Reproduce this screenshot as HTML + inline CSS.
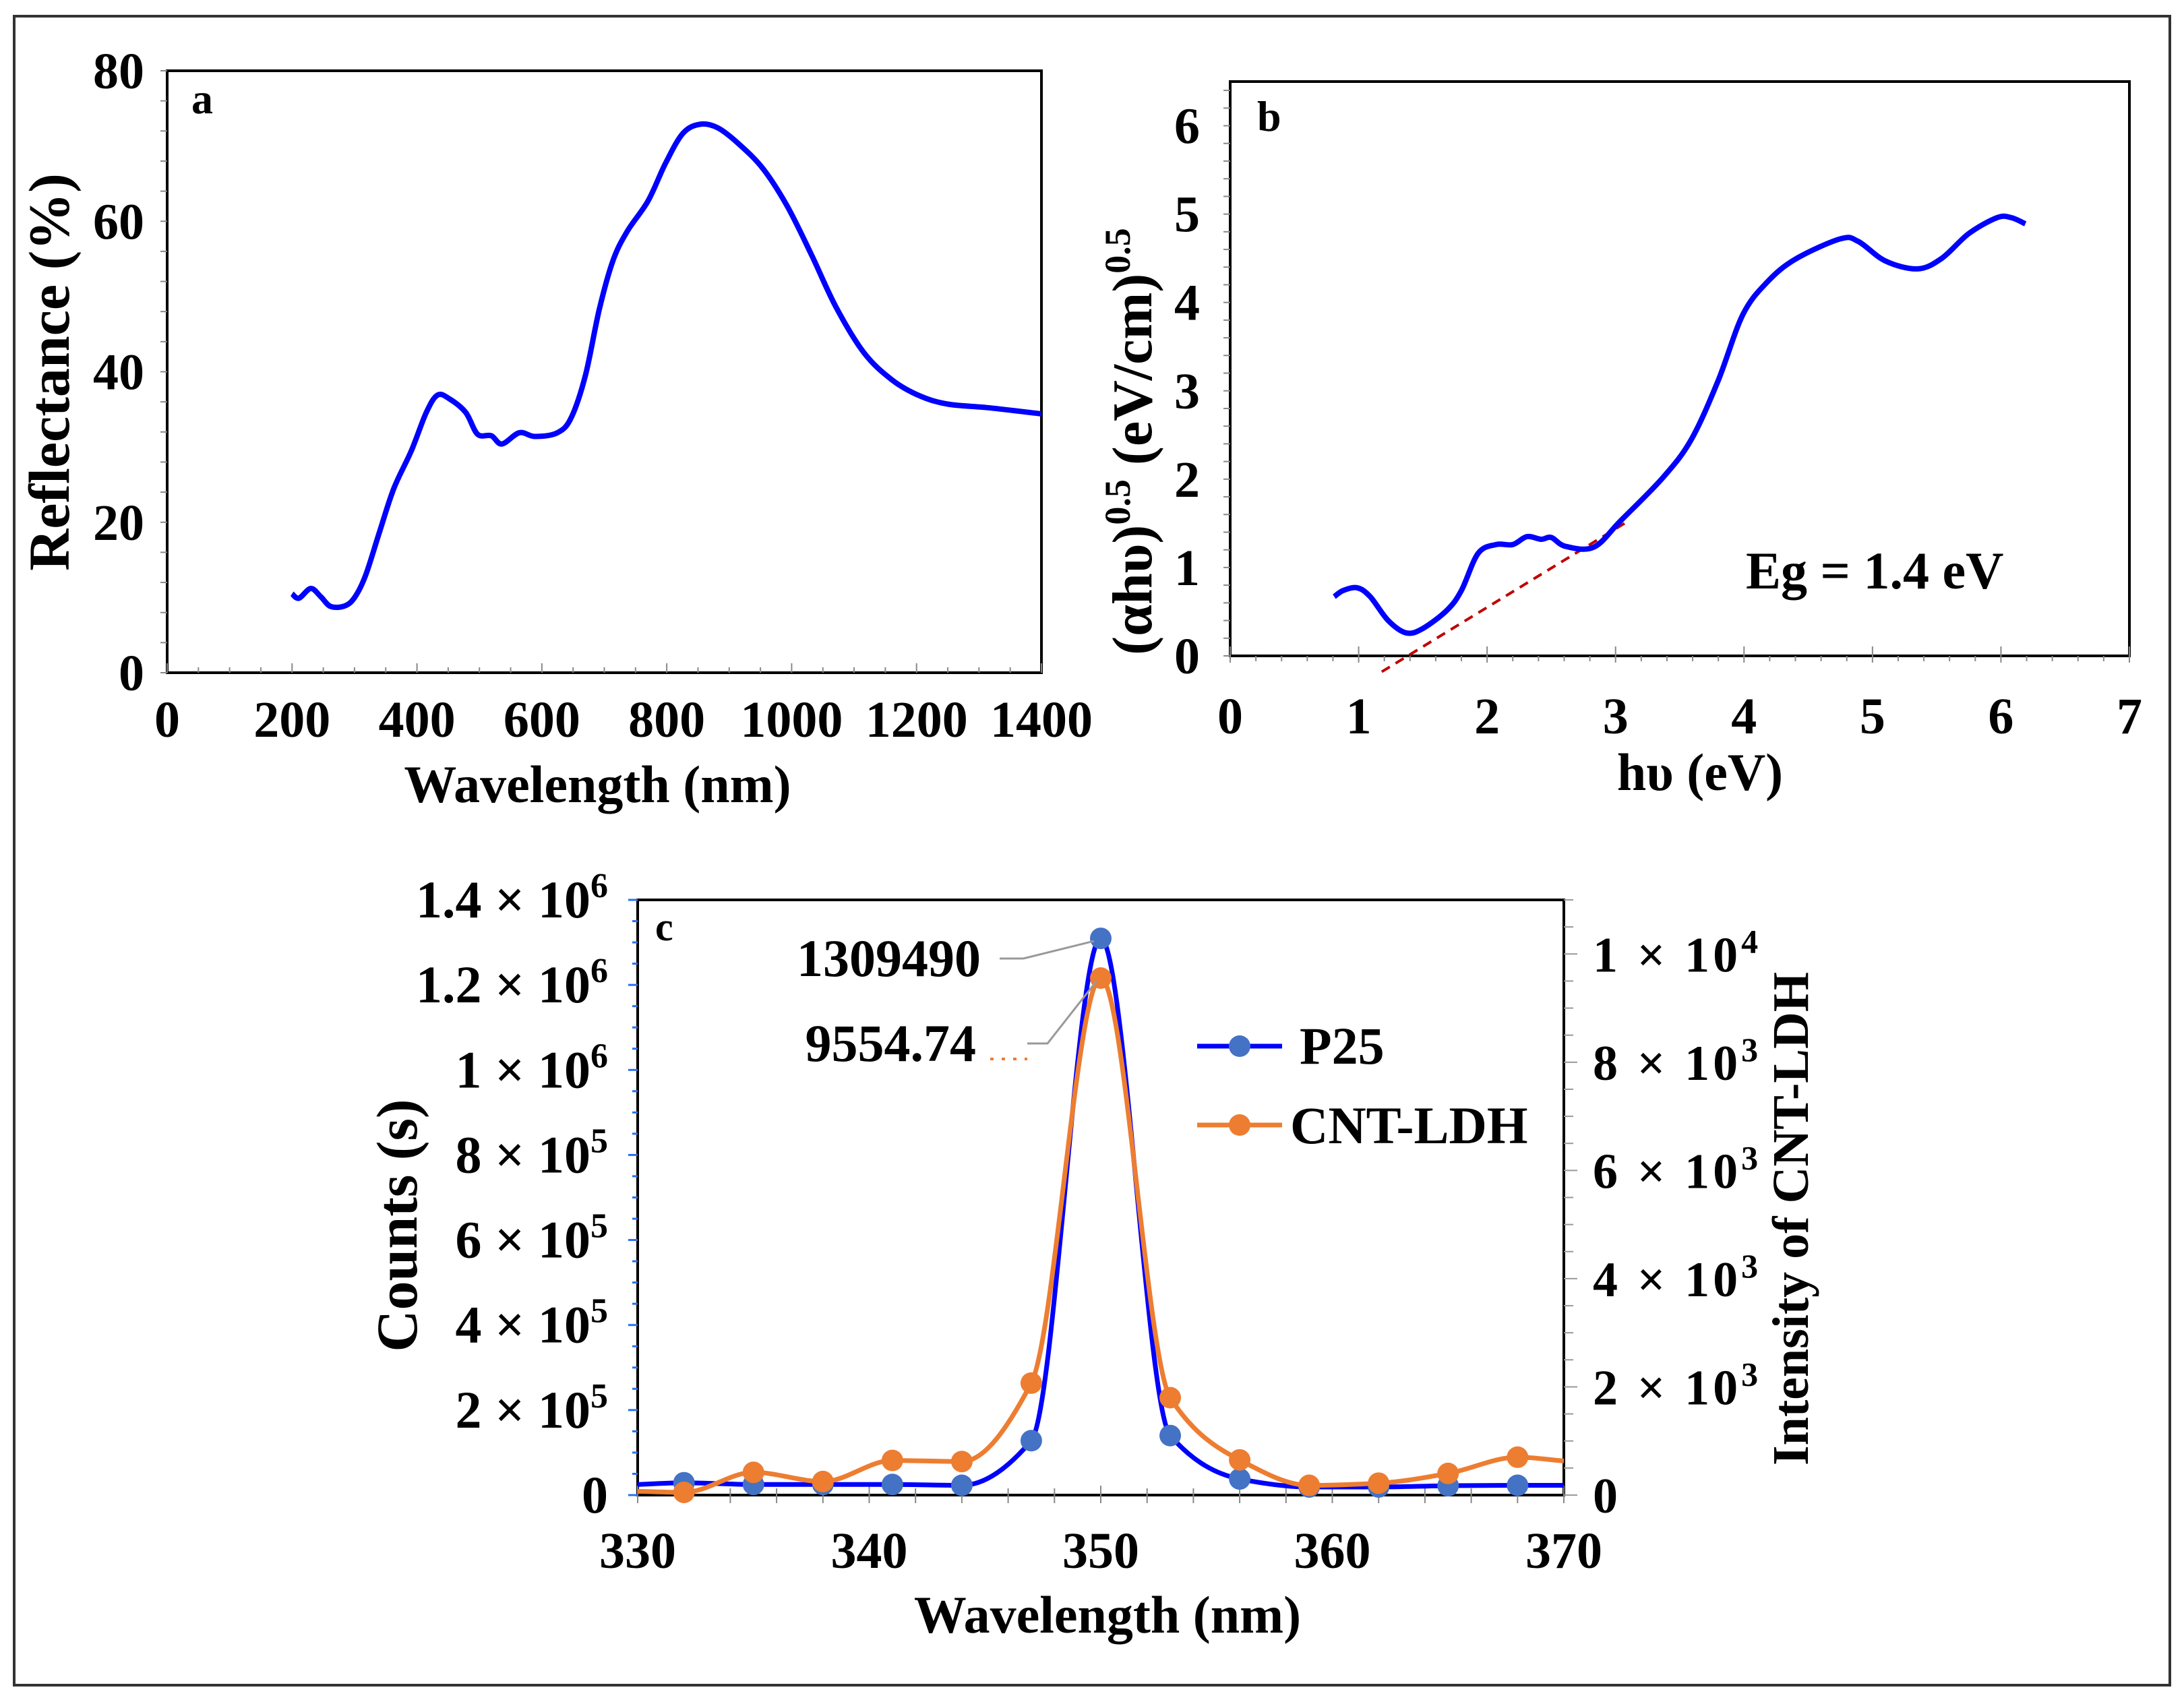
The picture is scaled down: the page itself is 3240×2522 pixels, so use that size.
<!DOCTYPE html>
<html><head><meta charset="utf-8"><style>
html,body{margin:0;padding:0;background:#fff}
svg{display:block}
text{font-family:"Liberation Serif",serif;font-weight:bold;fill:#000}
</style></head><body>
<svg id="fig" width="3240" height="2522" viewBox="0 0 3240 2522" xmlns="http://www.w3.org/2000/svg">
<rect x="21" y="24" width="3198" height="2476" fill="none" stroke="#333" stroke-width="4"/>
<g id="pa"></g>
<g id="pb"></g>
<g id="pc"></g>
</svg>
<script>
// ---------- Panel a data ----------
const aWave=[200,211,230,246,262,285,301,318,340,363,391,415,433,452,478,497,519,536,564,589,625,647,670,692,714,737,770,798,826,854,882,915,954,993,1032,1071,1116,1161,1205,1250,1317,1400];
const aRefl=[10.5,9.9,11.2,10.1,8.8,8.9,10.1,13,18.7,24.5,29.5,34.6,36.9,36.4,34.6,31.7,31.5,30.4,31.9,31.4,31.9,33.9,39.6,48.3,54.8,58.7,62.7,67.7,71.7,72.9,72.4,70.3,67,62,55.5,48.6,42.5,38.9,36.8,35.7,35.2,34.4];
const aXTicks=[0,200,400,600,800,1000,1200,1400];
const aYTicks=[0,20,40,60,80];
// ---------- Panel b data ----------
const bE=[0.81,0.88,0.99,1.09,1.23,1.37,1.50,1.69,1.80,1.93,2.07,2.20,2.31,2.42,2.50,2.61,2.83,3.04,3.37,3.59,3.80,3.99,4.18,4.40,4.75,4.89,5.10,5.35,5.54,5.75,5.97,6.08,6.19];
const bVal=[0.67,0.74,0.77,0.67,0.40,0.26,0.31,0.52,0.74,1.16,1.26,1.26,1.35,1.32,1.34,1.24,1.23,1.53,2.02,2.45,3.12,3.86,4.23,4.49,4.72,4.69,4.47,4.38,4.50,4.78,4.96,4.96,4.89];
const bFitX=[1.18,3.07];
const bFitY=[-0.18,1.50];
const bXTicks=[0,1,2,3,4,5,6,7];
const bYTicks=[0,1,2,3,4,5,6];
// ---------- Panel c data ----------
const cWave=[330,332,335,338,341,344,347,350,353,356,359,362,365,368,370];
const cP25=[25000,29000,25000,25000,25000,23000,128000,1309490,140000,38000,19000,19000,22000,23000,23000];
const cLDH=[70,50,420,250,640,620,2070,9554.74,1800,650,180,220,400,700,630];
const cXTicks=[330,340,350,360,370];
const cLeftTicks=[0,2e5,4e5,6e5,8e5,1e6,1.2e6,1.4e6];
const cLeftLabels=[["0",""],["2 × 10","5"],["4 × 10","5"],["6 × 10","5"],["8 × 10","5"],["1 × 10","6"],["1.2 × 10","6"],["1.4 × 10","6"]];
const cRightTicks=[0,2000,4000,6000,8000,10000];
const cRightLabels=[["0",""],["2 × 10","3"],["4 × 10","3"],["6 × 10","3"],["8 × 10","3"],["1 × 10","4"]];

const NS="http://www.w3.org/2000/svg";
function mk(parent,tag,attrs,txt){const e=document.createElementNS(NS,tag);for(const k in attrs)e.setAttribute(k,attrs[k]);if(txt!==undefined)e.textContent=txt;parent.appendChild(e);return e;}
function smooth(pts,t){t=t===undefined?0.5:t;let d="M"+pts[0][0]+","+pts[0][1];for(let i=0;i<pts.length-1;i++){const p0=pts[i-1]||pts[i],p1=pts[i],p2=pts[i+1],p3=pts[i+2]||p2;const c1x=p1[0]+(p2[0]-p0[0])*t/3,c1y=p1[1]+(p2[1]-p0[1])*t/3,c2x=p2[0]-(p3[0]-p1[0])*t/3,c2y=p2[1]-(p3[1]-p1[1])*t/3;d+=" C"+c1x+","+c1y+" "+c2x+","+c2y+" "+p2[0]+","+p2[1];}return d;}
function monotone(pts){const n=pts.length,dx=[],m=[],s=[];for(let i=0;i<n-1;i++){dx[i]=pts[i+1][0]-pts[i][0];s[i]=(pts[i+1][1]-pts[i][1])/dx[i];}
m[0]=s[0];m[n-1]=s[n-2];for(let i=1;i<n-1;i++){m[i]=(s[i-1]*s[i]<=0)?0:(dx[i-1]+dx[i])*3/((2*dx[i]+dx[i-1])/s[i-1]+(dx[i]+2*dx[i-1])/s[i]);}
let d="M"+pts[0][0]+","+pts[0][1];for(let i=0;i<n-1;i++){const h=dx[i]/3;d+=" C"+(pts[i][0]+h)+","+(pts[i][1]+m[i]*h)+" "+(pts[i+1][0]-h)+","+(pts[i+1][1]-m[i+1]*h)+" "+pts[i+1][0]+","+pts[i+1][1];}return d;}

// ===== Panel a =====
(function(){
const g=document.getElementById('pa');
const L=248,R=1545,T=105,B=998;
const x=v=>L+(v-0)/1400*(R-L), y=v=>B-(v/80)*(B-T);
let e=mk(g,'rect',{x:L,y:T,width:R-L,height:B-T,fill:'none',stroke:'#000','stroke-width':4});

for(let v=0;v<=1400;v+=50){e=mk(g,'line',{x1:x(v),x2:x(v),y1:B,y2:B-(v%200==0?14:8),stroke:'#888','stroke-width':2});}
for(let v=0;v<=80;v+=4){e=mk(g,'line',{x1:L,x2:L-10,y1:y(v),y2:y(v),stroke:'#888','stroke-width':2});}
aXTicks.forEach(v=>{e=mk(g,'text',{x:x(v),y:1093,'font-size':76,'text-anchor':'middle'},String(v));});
aYTicks.forEach(v=>{e=mk(g,'text',{x:214,y:y(v)+26,'font-size':76,'text-anchor':'end'},String(v));});
e=mk(g,'text',{x:(L+R)/2-10,y:1190,'font-size':78,'text-anchor':'middle'},'Wavelength (nm)');
e=mk(g,'text',{x:0,y:0,'font-size':86,'text-anchor':'middle',transform:'translate(102,552) rotate(-90)'},'Reflectance (%)');
e=mk(g,'text',{x:284,y:168,'font-size':64},'a');
e=mk(g,'path',{d:smooth(aWave.map((w,i)=>[x(w),y(aRefl[i])])),fill:'none',stroke:'#0000ff','stroke-width':8,'stroke-linejoin':'round'});

})();

// ===== Panel b =====
(function(){
const g=document.getElementById('pb');
const L=1825,R=3159,T=121,B=973;
const x=v=>L+v/7*(R-L), y=v=>B-v/6.5*(B-T);
let e=mk(g,'rect',{x:L,y:T,width:R-L,height:B-T,fill:'none',stroke:'#000','stroke-width':4});

for(let i=0;i<=35;i++){const v=i*0.2;e=mk(g,'line',{x1:x(v),x2:x(v),y1:B-(i%5==0?14:0),y2:B+(i%5==0?10:8),stroke:'#888','stroke-width':2});}
for(let i=0;i<=32;i++){const v=i*0.2;e=mk(g,'line',{x1:L,x2:L-10,y1:y(v),y2:y(v),stroke:'#888','stroke-width':2});}
bXTicks.forEach(v=>{e=mk(g,'text',{x:x(v),y:1088,'font-size':76,'text-anchor':'middle'},String(v));});
bYTicks.forEach(v=>{e=mk(g,'text',{x:1780,y:y(v)+26,'font-size':76,'text-anchor':'end'},String(v));});
e=mk(g,'text',{x:2522,y:1172,'font-size':78,'text-anchor':'middle'},'hυ (eV)');
const yt=mk(g,'text',{x:0,y:0,'font-size':84,'text-anchor':'middle',transform:'translate(1708,655) rotate(-90)'});

mk(yt,'tspan',{},'(αhυ)');mk(yt,'tspan',{dy:-32,'font-size':54},'0.5');mk(yt,'tspan',{dy:32},' (eV/cm)');mk(yt,'tspan',{dy:-32,'font-size':54},'0.5');
e=mk(g,'text',{x:1865,y:194,'font-size':64},'b');
e=mk(g,'text',{x:2590,y:873,'font-size':78},'Eg = 1.4 eV');
e=mk(g,'line',{x1:x(bFitX[0]),y1:y(bFitY[0]),x2:x(bFitX[1]),y2:y(bFitY[1]),stroke:'#c00000','stroke-width':4,'stroke-dasharray':'14,10'});

e=mk(g,'path',{d:smooth(bE.map((v,i)=>[x(v),y(bVal[i])])),fill:'none',stroke:'#0000ff','stroke-width':8,'stroke-linejoin':'round'});

})();

// ===== Panel c =====
(function(){
const g=document.getElementById('pc');
const L=946,R=2320,T=1335,B=2218;
const x=v=>L+(v-330)/40*(R-L), yl=v=>B-v/1.4e6*(B-T), yr=v=>B-v/11000*(B-T);
let e=mk(g,'rect',{x:L,y:T,width:R-L,height:B-T,fill:'none',stroke:'#000','stroke-width':4});

for(let v=330;v<=370;v+=2){e=mk(g,'line',{x1:x(v),x2:x(v),y1:B-(v%10==0?14:10),y2:B+12,stroke:'#888','stroke-width':2});}
for(let i=0;i<=28;i++){const v=i*5e4;e=mk(g,'line',{x1:L,x2:L-(i%4==0?14:8),y1:yl(v),y2:yl(v),stroke:'#2a6ff0','stroke-width':3});}
for(let i=0;i<=22;i++){const v=i*500;e=mk(g,'line',{x1:R,x2:R+(i%4==0?20:14),y1:yr(v),y2:yr(v),stroke:'#999','stroke-width':2});}
cXTicks.forEach(v=>{e=mk(g,'text',{x:x(v),y:2326,'font-size':76,'text-anchor':'middle'},String(v));});
cLeftTicks.forEach((v,i)=>{const t=mk(g,'text',{x:902,y:yl(v)+26,'font-size':78,'text-anchor':'end'});mk(t,'tspan',{},cLeftLabels[i][0]);if(cLeftLabels[i][1]){mk(t,'tspan',{dy:-30,'font-size':52},cLeftLabels[i][1]);}});
cRightTicks.forEach((v,i)=>{const t=mk(g,'text',{x:2363,y:yr(v)+26,'font-size':74,'letter-spacing':5,'text-anchor':'start'});mk(t,'tspan',{},cRightLabels[i][0]);if(cRightLabels[i][1]){mk(t,'tspan',{dy:-28,'font-size':50},cRightLabels[i][1]);}});
e=mk(g,'text',{x:(L+R)/2+10,y:2422,'font-size':78,'text-anchor':'middle'},'Wavelength (nm)');
e=mk(g,'text',{x:0,y:0,'font-size':86,'text-anchor':'middle',transform:'translate(618,1818) rotate(-90)'},'Counts (s)');
e=mk(g,'text',{x:0,y:0,'font-size':76,'text-anchor':'middle',transform:'translate(2682,1808) rotate(-90)'},'Intensity of CNT-LDH');
e=mk(g,'text',{x:972,y:1395,'font-size':60},'c');
// series
e=mk(g,'path',{d:monotone(cWave.map((w,i)=>[x(w),yl(cP25[i])])),fill:'none',stroke:'#0000ff','stroke-width':7});

cWave.forEach((w,i)=>{if(i==0||i==cWave.length-1)return;const c=mk(g,'circle',{cx:x(w),cy:yl(cP25[i]),r:16,fill:'#4472c4'});});
e=mk(g,'path',{d:monotone(cWave.map((w,i)=>[x(w),yr(cLDH[i])])),fill:'none',stroke:'#ed7d31','stroke-width':7});

cWave.forEach((w,i)=>{if(i==0||i==cWave.length-1)return;const c=mk(g,'circle',{cx:x(w),cy:yr(cLDH[i]),r:16,fill:'#ed7d31'});});
// annotations
const pk=cP25.indexOf(Math.max(...cP25)), pk2=cLDH.indexOf(Math.max(...cLDH));
e=mk(g,'polyline',{points:`1483,1422 1518,1422 ${x(cWave[pk])-10},${yl(cP25[pk])+4}`,fill:'none',stroke:'#999','stroke-width':3});
e=mk(g,'text',{x:1455,y:1448,'font-size':78,'text-anchor':'end'},String(cP25[pk]));
e=mk(g,'polyline',{points:`1524,1548 1554,1548 ${x(cWave[pk2])-6},${yr(cLDH[pk2])+4}`,fill:'none',stroke:'#999','stroke-width':3});
e=mk(g,'line',{x1:1469,y1:1571,x2:1524,y2:1571,stroke:'#ed7d31','stroke-width':4,'stroke-dasharray':'5,12'});
e=mk(g,'text',{x:1448,y:1574,'font-size':78,'text-anchor':'end'},String(cLDH[pk2]));
// legend
e=mk(g,'line',{x1:1776,y1:1552,x2:1902,y2:1552,stroke:'#0000ff','stroke-width':7});
e=mk(g,'circle',{cx:1839,cy:1552,r:16,fill:'#4472c4'});
e=mk(g,'text',{x:1928,y:1578,'font-size':78},'P25');
e=mk(g,'line',{x1:1776,y1:1669,x2:1902,y2:1669,stroke:'#ed7d31','stroke-width':7});
e=mk(g,'circle',{cx:1839,cy:1669,r:16,fill:'#ed7d31'});
e=mk(g,'text',{x:1914,y:1696,'font-size':78},'CNT-LDH');
})();
</script>
</body></html>
